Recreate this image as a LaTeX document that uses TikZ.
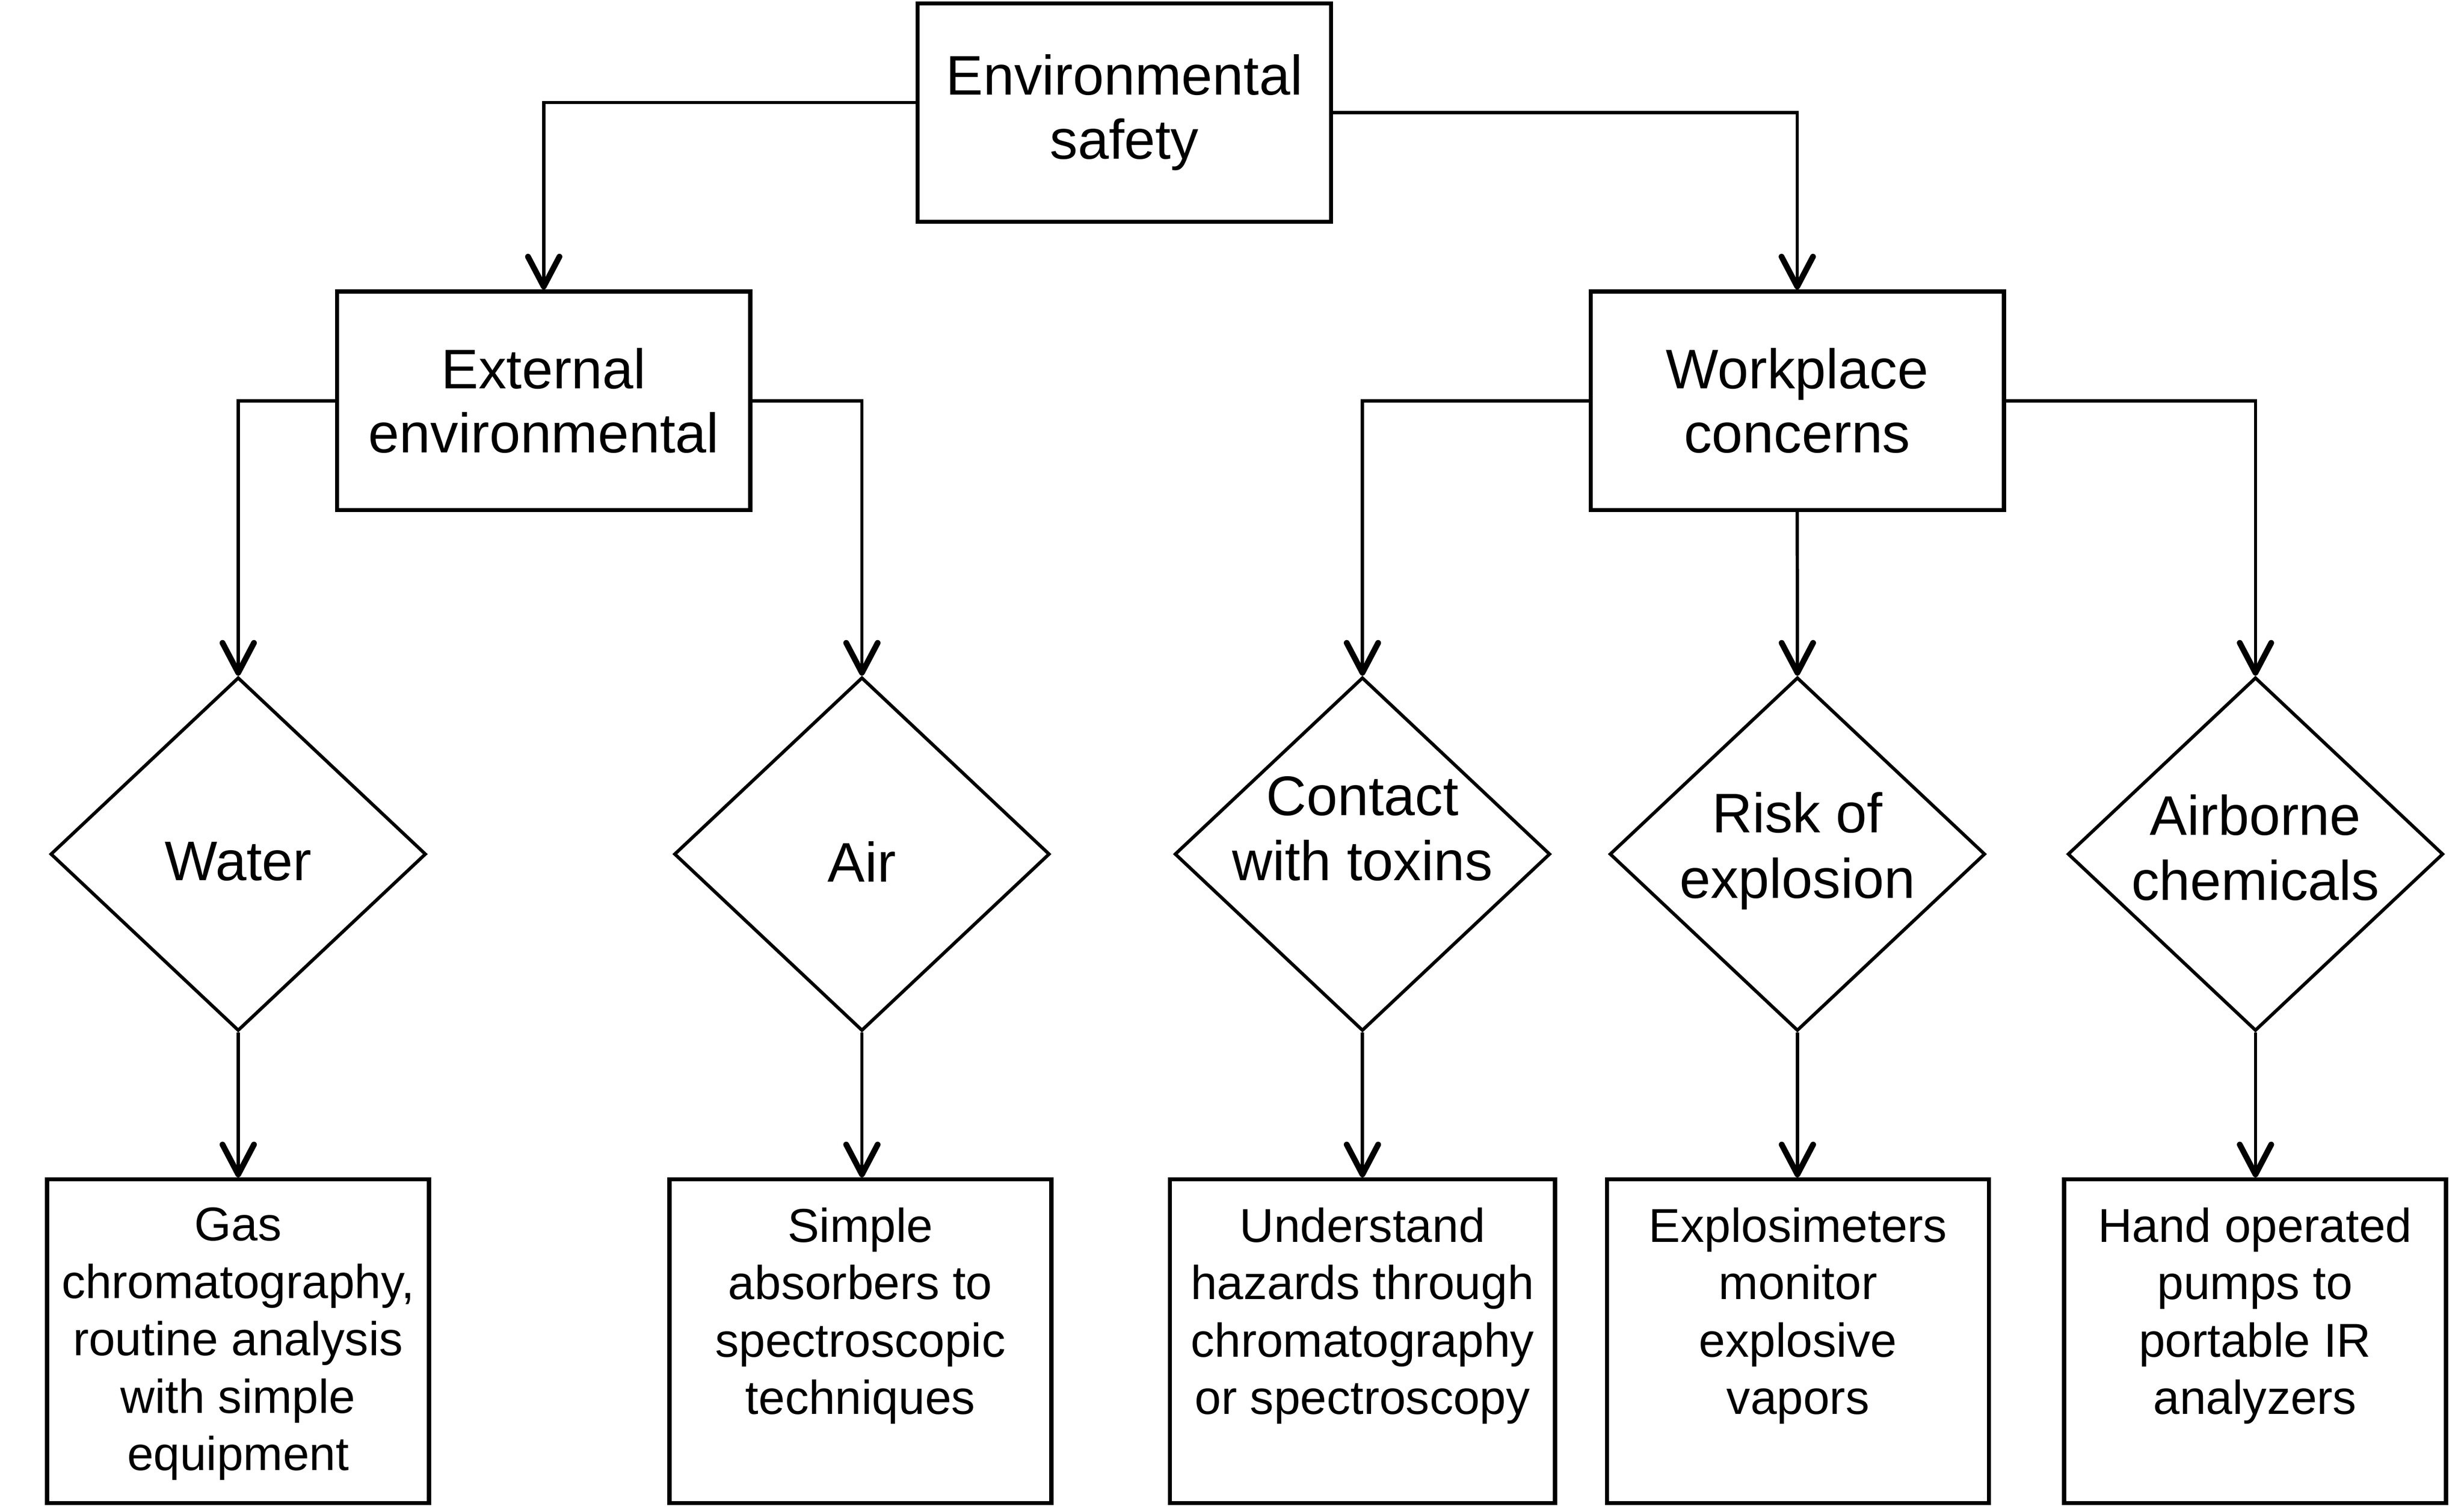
\documentclass[tikz,border=0pt]{standalone}
\usepackage{fontspec}
\setmainfont{Liberation Sans}
\usetikzlibrary{arrows.meta,shapes.geometric}

\tikzset{
  topbox/.style={draw, line width=0.75pt, minimum width=26.3mm, minimum height=13.9mm,
    inner sep=0pt, align=center, font=\fontsize{10.1}{11.6}\selectfont},
  choice/.style={draw, diamond, line width=0.6pt, minimum width=23.9mm,
    minimum height=22.5mm, inner sep=0pt},
  choicetext/.style={align=center, inner sep=0pt, font=\fontsize{10.1}{11.8}\selectfont},
  endbox/.style={draw, line width=0.75pt, minimum width=24.3mm, minimum height=20.6mm, inner sep=0pt},
  endtext/.style={anchor=north, yshift=-1.85mm, align=center, inner sep=0pt,
    font=\fontsize{8.6}{10.4}\selectfont},
  link/.style={line width=0.6pt, -{Straight Barb[length=1.9mm,width=2mm,line width=1.05pt,round]}},
}

\begin{document}
\begin{tikzpicture}[x=0.1mm,y=-0.1mm]
  \useasboundingbox (0,0) rectangle (1568,960);
  % first two levels
  \node[topbox] (env) at (715.5,71.6) {Environmental\\safety};
  \node[topbox] (ext) at (346,255) {External\\environmental};
  \node[topbox] (work) at (1143.7,255) {Workplace\\concerns};
  % the decisions
  \node[choice] (water) at (151.6,543.5) {};
  \node[choice] (air) at (548.5,543.5) {};
  \node[choice] (contact) at (867,543.5) {};
  \node[choice] (risk) at (1143.8,543.5) {};
  \node[choice] (airborne) at (1435.3,543.5) {};
  \node[choicetext,yshift=-0.47mm] (water-t) at (water.center) {Water};
  \node[choicetext,yshift=-0.47mm] (air-t) at (air.center) {Air};
  \node[choicetext,yshift=1.61mm] (contact-t) at (contact.center) {Contact\\with toxins};
  \node[choicetext,yshift=0.2mm] (risk-t) at (risk.center) {Risk of\\explosion};
  \node[choicetext,yshift=0.4mm] (airborne-t) at (airborne.center) {Airborne\\chemicals};
  % the methods
  \node[endbox] (gas) at (151.5,853.5) {};
  \node[endbox] (simple) at (547.5,853.5) {};
  \node[endbox,minimum width=24.5mm] (understand) at (867,853.5) {};
  \node[endbox] (explos) at (1144.2,853.5) {};
  \node[endbox] (hand) at (1435,853.5) {};
  \node[endtext] (gas-t) at (gas.north) {Gas\\chromatography,\\routine analysis\\with simple\\equipment};
  \node[endtext] (simple-t) at (simple.north) {Simple\\absorbers to\\spectroscopic\\techniques};
  \node[endtext] (understand-t) at (understand.north) {Understand\\hazards through\\chromatography\\or spectroscopy};
  \node[endtext] (explos-t) at (explos.north) {Explosimeters\\monitor\\explosive\\vapors};
  \node[endtext] (hand-t) at (hand.north) {Hand operated\\pumps to\\portable IR\\analyzers};

  \draw[link] ([yshift=0.64mm]env.west) -| (ext.north);
  \draw[link] (env.east) -| (work.north);
  \draw[link] (ext.west) -| (water.north);
  \draw[link] (ext.east) -| (air.north);
  \draw[link] (work.west) -| (contact.north);
  \draw[link] (work.south) -- (risk.north);
  \draw[link] (work.east) -| (airborne.north);
  \foreach \a/\b in {water/gas,air/simple,contact/understand,risk/explos,airborne/hand} { %one arrow down per column
    \draw[link] (\a.south) -- (\a.south |- \b.north);
  }
\end{tikzpicture}
\end{document}
